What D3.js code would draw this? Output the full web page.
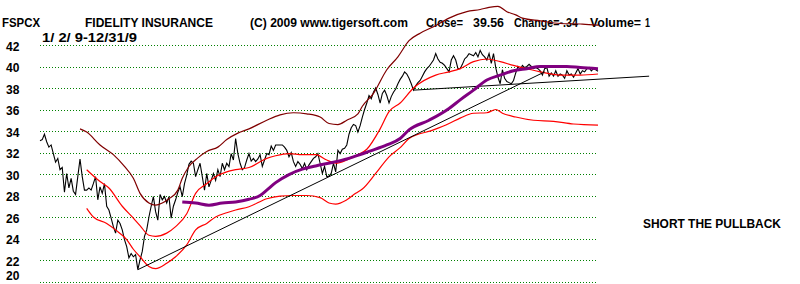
<!DOCTYPE html>
<html>
<head>
<meta charset="utf-8">
<script src="https://cdn.jsdelivr.net/npm/d3@7.9.0/dist/d3.min.js"></script>
<style>
  html, body { margin: 0; padding: 0; background: #fff; }
  svg { display: block; }
  text { font-family: "Liberation Sans", Arial, sans-serif; font-weight: bold; font-size: 12px; fill: #000; }
</style>
</head>
<body>
<svg id="chart" width="800" height="284"></svg>
<script>
// daily closes, trading day 0 = 1/2/09 ... 251 = 12/31/09
const closes = [
  33.1, 33.2, 33.7, 33.0, 32.5, 32.7, 31.9, 31.1, 31.45, 30.4,
  30.6, 28.3, 30.05, 28.7, 29.6, 28.4, 28.1, 29.75, 31.4, 29.75,
  28.5, 28.5, 28.7, 28.5, 29.1, 29.75, 27.6, 28.8, 28.2, 29.1,
  27.0, 26.65, 25.9, 25.1, 24.5, 25.7, 25.4, 24.8, 23.9, 23.25,
  22.2, 22.6, 22.3, 22.5, 21.1, 22.0, 22.8, 24.2, 24.8, 26.0,
  27.0, 27.9, 26.5, 25.7, 28.1, 27.6, 27.9, 27.3, 27.9, 25.9,
  27.0, 27.6, 28.3, 28.8, 27.9, 29.1, 29.9, 30.9, 31.2, 31.0,
  29.75, 30.4, 31.0, 29.75, 28.5, 30.05, 28.8, 29.4, 30.05, 29.4,
  30.4, 29.75, 31.0, 30.4, 31.0, 30.7, 31.9, 31.3, 33.3, 31.9,
  31.0, 30.4, 30.6, 31.3, 31.9, 31.2, 31.45, 31.15, 31.4, 31.8,
  30.7, 31.3, 31.9, 31.8, 32.6, 32.2, 32.7, 32.7, 32.7, 32.7,
  32.5, 32.2, 31.6, 32.0, 31.15, 30.7, 31.15, 30.9, 30.5, 31.0,
  30.4, 30.85, 31.15, 31.45, 31.6, 31.9, 31.0, 30.05, 30.7, 29.75,
  29.8, 30.05, 31.0, 30.2, 32.2, 31.9, 32.3, 32.4, 32.7, 33.7,
  34.3, 34.6, 34.5, 33.9, 34.5, 35.3, 36.0, 36.6, 37.3, 37.0,
  37.6, 38.0, 37.4, 36.6, 37.5, 37.8, 37.3, 36.6, 37.2, 37.6,
  37.9, 38.4, 38.8, 39.1, 39.5, 39.3, 38.9, 38.4, 37.8, 38.2,
  38.5, 38.7, 39.1, 39.5, 39.8, 40.0, 40.3, 40.6, 41.2, 40.7,
  40.4, 40.3, 40.1, 39.8, 39.5, 40.6, 41.0, 40.6, 39.8, 39.8,
  40.2, 40.7, 40.9, 41.2, 41.1, 41.0, 41.3, 40.9, 41.5, 41.1,
  40.9, 40.6, 41.2, 40.3, 41.2, 39.9, 39.0, 38.4, 39.7, 38.9,
  38.6, 38.5, 38.4, 38.7, 39.4, 40.0, 39.7, 40.1, 39.9, 40.0,
  40.2, 40.0, 39.8, 39.9, 39.8, 39.6, 39.2, 39.8, 39.9, 39.1,
  39.4, 39.1, 39.6, 39.1, 39.3, 39.2, 38.9, 39.6, 39.2, 39.3,
  39.0, 39.4, 39.8, 39.3, 39.6, 39.5, 39.8, 39.9, 39.6, 39.8,
  39.7, 39.56
];

// [trading day, value]
const outerUpper = [[18,34.2],[21,33.9],[27,32.7],[33,31.8],[38,30.7],[42,29.6],[45,28.2],[49,27.3],[52,27.1],
  [55,27.3],[58,27.7],[62,28.5],[64,29.6],[67,30.7],[71,31.5],[75,32.1],[80,32.5],[84,33.2],[89,33.8],[94,34.2],
  [102,35.0],[108,35.5],[114,35.7],[120,35.6],[126,35.3],[130,34.7],[134,34.6],[138,35.0],[143,35.6],[145,36.3],
  [150,37.5],[156,39.7],[161,40.9],[166,42.4],[171,43.1],[177,43.7],[184,44.5],[192,45.1],[198,45.3],[202,45.5],
  [206,45.6],[210,45.1],[214,44.8],[217,44.5],[225,44.25],[234,44.0],[244,43.95],[251,43.85]];

const innerUpper = [[21,30.4],[27,29.3],[31,28.7],[37,27.0],[42,25.9],[45,25.2],[49,24.3],[52,24.2],[57,24.5],
  [61,25.1],[66,26.3],[70,28.2],[75,29.1],[79,29.75],[84,30.2],[88,30.4],[94,30.6],[102,31.45],[106,31.7],
  [112,31.9],[118,31.8],[124,31.8],[129,31.3],[133,31.0],[138,31.3],[142,31.7],[147,32.3],[153,34.2],[157,35.8],
  [162,36.6],[168,38.0],[178,39.2],[184,39.5],[189,39.8],[195,40.45],[201,40.7],[207,40.45],[213,40.1],
  [219,39.8],[225,39.5],[234,39.2],[243,39.2],[251,39.3]];

const innerLower = [[21,26.8],[24,26.0],[30,25.4],[34,24.8],[39,23.9],[42,23.0],[45,22.3],[49,21.4],[52,21.2],
  [57,21.7],[61,22.3],[66,23.4],[70,24.8],[75,25.4],[79,26.0],[84,26.4],[88,26.65],[94,26.95],[102,27.7],
  [108,27.95],[114,28.0],[120,28.0],[126,27.8],[130,27.3],[133,27.2],[138,27.6],[142,28.2],[145,28.6],
  [151,30.05],[157,31.6],[162,32.45],[166,33.3],[177,34.1],[184,34.7],[189,35.2],[195,35.65],[201,35.7],
  [205,36.0],[208,35.65],[214,35.3],[222,35.0],[231,34.9],[240,34.65],[251,34.55]];

const slowAvg = [[64,27.4],[70,27.3],[76,27.1],[82,27.3],[88,27.4],[94,27.65],[99,28.0],[102,28.5],[106,29.2],
  [112,29.95],[118,30.45],[124,30.75],[132,31.1],[138,31.4],[144,31.8],[148,32.1],[156,32.7],[162,33.3],
  [166,34.1],[175,35.0],[184,36.1],[189,36.9],[195,37.8],[201,38.75],[207,39.2],[213,39.6],[219,39.8],
  [225,40.0],[231,40.0],[237,40.0],[243,39.9],[251,39.8]];

const trendLines = [
  [[44, 21.1], [227, 39.5]],
  [[168, 37.8], [274, 39.1]]
];

const gridValues = [20, 22, 24, 26, 28, 30, 32, 34, 36, 38, 40, 42];

const headerTexts = [
  { text: "FSPCX", x: 2, w: 38 },
  { text: "FIDELITY INSURANCE", x: 85, w: 128 },
  { text: "(C) 2009 www.tigersoft.com", x: 250, w: 158 },
  { text: "Close=", x: 426, w: 37 },
  { text: "39.56", x: 473, w: 31 },
  { text: "Change=-.34", x: 514, w: 64 },
  { text: "Volume=", x: 590, w: 51 },
  { text: "1", x: 645, w: 5 }
];

const svg = d3.select("#chart");

const x = d3.scaleLinear().domain([0, closes.length - 1]).range([40, 598]);
const y = d3.scaleLinear().domain([20, 42]).range([281.5, 45]);

// dotted grid
svg.append("g")
  .selectAll("line")
  .data(gridValues)
  .join("line")
  .attr("x1", x(0))
  .attr("x2", x(closes.length - 1))
  .attr("y1", d => Math.round(y(d)) + 0.5)
  .attr("y2", d => Math.round(y(d)) + 0.5)
  .attr("stroke", "#008000")
  .attr("stroke-dasharray", "1,2")
  .attr("shape-rendering", "crispEdges");

// y labels (bottom one nudged up so it stays inside the frame)
svg.append("g")
  .selectAll("text")
  .data(gridValues)
  .join("text")
  .attr("x", 6)
  .attr("y", d => Math.min(y(d) + 5.5, 280))
  .text(d => d);

// header
svg.append("g")
  .selectAll("text")
  .data(headerTexts)
  .join("text")
  .attr("x", d => d.x)
  .attr("y", 27)
  .attr("textLength", d => d.w)
  .attr("lengthAdjust", "spacingAndGlyphs")
  .text(d => d.text);

svg.append("text")
  .attr("x", 42).attr("y", 41.5)
  .attr("textLength", 95).attr("lengthAdjust", "spacingAndGlyphs")
  .text("1/ 2/ 9-12/31/9");

svg.append("text")
  .attr("x", 643).attr("y", 228)
  .attr("textLength", 138).attr("lengthAdjust", "spacingAndGlyphs")
  .text("SHORT THE PULLBACK");

const priceLine = d3.line().x((d, i) => x(i)).y(d => y(d));
const smooth = d3.line().x(d => x(d[0])).y(d => y(d[1])).curve(d3.curveMonotoneX);
const straight = d3.line().x(d => x(d[0])).y(d => y(d[1]));

svg.append("path")
  .attr("d", priceLine(closes))
  .attr("fill", "none")
  .attr("stroke", "#000")
  .attr("stroke-width", 1.1);

[innerUpper, innerLower].forEach(band => {
  svg.append("path")
    .attr("d", smooth(band))
    .attr("fill", "none")
    .attr("stroke", "#ff0000")
    .attr("stroke-width", 1.2);
});

svg.append("path")
  .attr("d", smooth(outerUpper))
  .attr("fill", "none")
  .attr("stroke", "#800000")
  .attr("stroke-width", 1.2);

svg.append("g")
  .selectAll("path")
  .data(trendLines)
  .join("path")
  .attr("d", d => straight(d))
  .attr("fill", "none")
  .attr("stroke", "#000")
  .attr("stroke-width", 1);

svg.append("path")
  .attr("d", smooth(slowAvg))
  .attr("fill", "none")
  .attr("stroke", "#800080")
  .attr("stroke-width", 3);
</script>
</body>
</html>
